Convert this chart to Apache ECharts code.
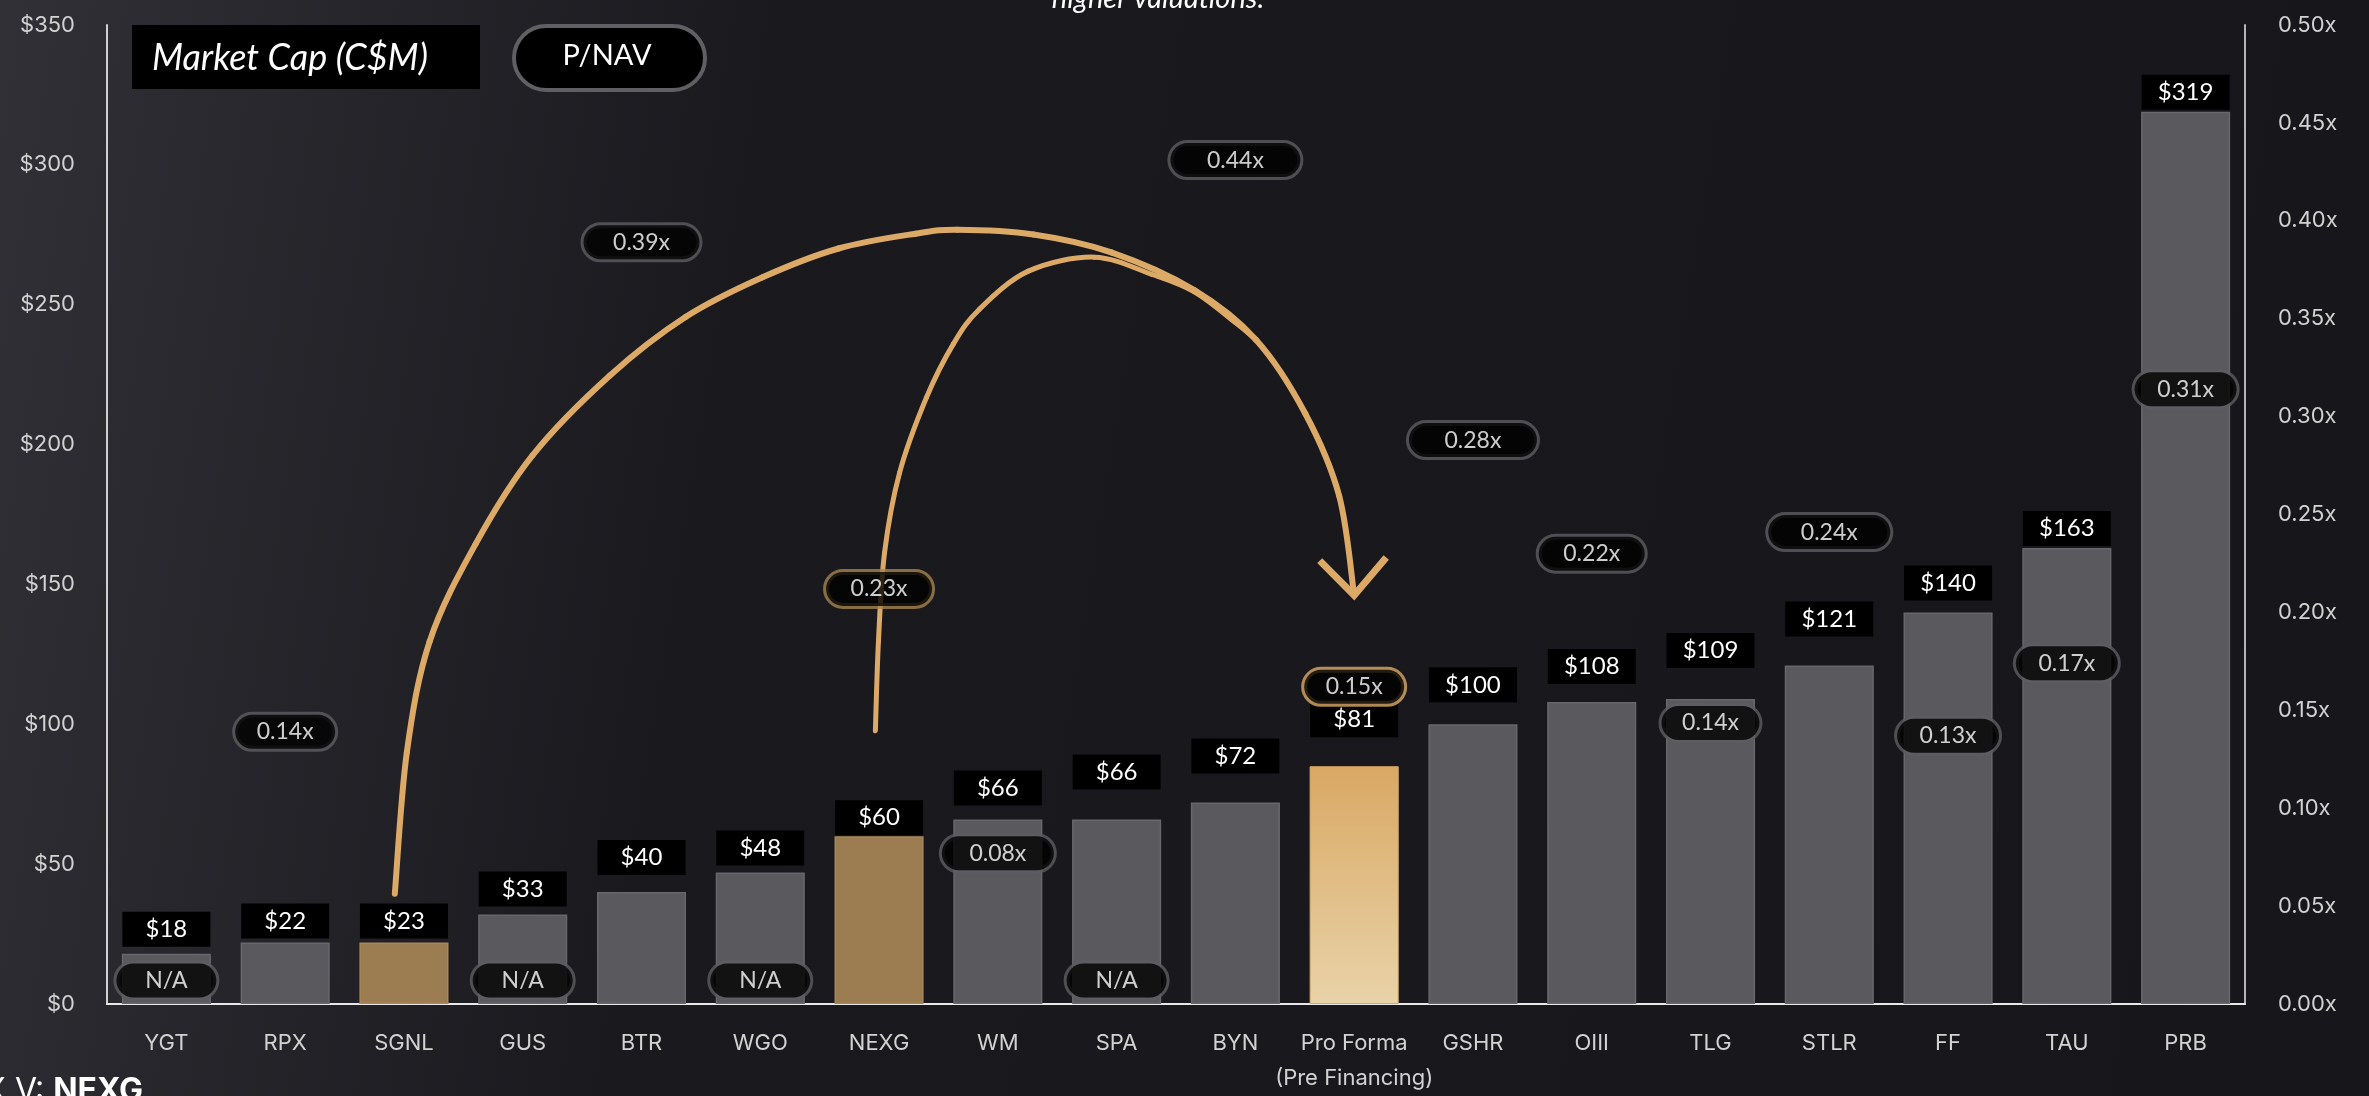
<!DOCTYPE html>
<html>
<head>
<meta charset="utf-8">
<script src="https://cdn.jsdelivr.net/npm/echarts@6/dist/echarts.min.js"></script>
<style>
  html, body { margin: 0; padding: 0; width: 2369px; height: 1096px; overflow: hidden; background: #18171c; }
  #chart { width: 2369px; height: 1096px; }
</style>
</head>
<body>
<div id="chart"></div>
<script>
// ---------------- DATA ----------------
const categories = ['YGT', 'RPX', 'SGNL', 'GUS', 'BTR', 'WGO', 'NEXG', 'WM', 'SPA', 'BYN',
  'Pro Forma\n(Pre Financing)', 'GSHR', 'OIII', 'TLG', 'STLR', 'FF', 'TAU', 'PRB'];
// Market cap (C$M) as drawn by the bars
const marketCap = [18, 22, 22, 32, 40, 47, 60, 66, 66, 72, 85, 100, 108, 109, 121, 140, 163, 319];
// Market cap labels as printed
const marketCapLabels = ['$18', '$22', '$23', '$33', '$40', '$48', '$60', '$66', '$66', '$72',
  '$81', '$100', '$108', '$109', '$121', '$140', '$163', '$319'];
// P/NAV labels as printed and where they sit on the right (P/NAV) axis
const pNavLabels = ['N/A', '0.14x', null, 'N/A', '0.39x', 'N/A', '0.23x', '0.08x', 'N/A', '0.44x',
  '0.15x', '0.28x', '0.22x', '0.14x', '0.24x', '0.13x', '0.17x', '0.31x'];
const pNavPlotted = [0.012, 0.139, null, 0.012, 0.389, 0.012, 0.212, 0.077, 0.012, 0.431,
  0.162, 0.288, 0.230, 0.1435, 0.241, 0.137, 0.174, 0.314];
// Axis ranges
const leftAxis = { min: 0, max: 350, interval: 50 };
const rightAxis = { min: 0, max: 0.5, interval: 0.05 };
// Annotation arrows, in (category index, C$M) space
const arrowFromSGNL = [[1.923, 39.4], [2.024, 89.9], [2.217, 129.7], [2.604, 164.5], [3.084, 196.2],
  [3.732, 224.6], [4.371, 245.6], [5.019, 259.8], [5.659, 270.1], [6.307, 275.4], [6.659, 276.8],
  [7.30, 275.1], [7.955, 268.7], [8.654, 255.2], [9.175, 237.4], [9.588, 211.1], [9.874, 181.6],
  [10.0, 146.1]];
const arrowFromNEXG = [[5.969, 97.7], [5.995, 129.7], [6.046, 161.3], [6.172, 189.8], [6.399, 216.8],
  [6.626, 236.0], [6.845, 248.4], [7.257, 262.0], [7.813, 267.0], [8.3, 260.8], [8.654, 254.6],
  [9.0, 243.6], [9.175, 237.4]];
const arrowHead = [[9.71, 158.5], [10.0, 146.1], [10.27, 159.6]];

// ---------------- STYLE ----------------
const GOLD = '#dcaa66';
const GRAY_BAR = '#5a595e';
const BROWN = '#9c7c51';
const pillWidths = [100, 100, 0, 100, 116, 100, 106, 112, 100, 130, 100, 128, 106, 98, 122, 102, 102, 102];
const labelGaps = [7, 4, 4, 8, 17, 7, 1, 14, 30, 29, 29, 22, 18, 31, 29, 12, 2, 2];
const AXIS_FONT = 'Inter, "Noto Sans", sans-serif';
const LABEL_FONT = 'Lato, "Open Sans", sans-serif';

const chart = echarts.init(document.getElementById('chart'), null, { renderer: 'canvas' });

const barData = marketCap.map((v, i) => {
  const name = categories[i];
  let itemStyle = { color: GRAY_BAR, borderColor: '#68676c', borderWidth: 1.5 };
  if (name === 'SGNL' || name === 'NEXG') {
    itemStyle = { color: BROWN, borderColor: '#a8885a', borderWidth: 1.5 };
  } else if (name.indexOf('Pro Forma') === 0) {
    itemStyle = {
      color: new echarts.graphic.LinearGradient(0, 0, 0, 1, [
        { offset: 0, color: '#d9a864' },
        { offset: 1, color: '#e9d3a9' }
      ]),
      borderColor: '#d9a864', borderWidth: 1
    };
  }
  return { value: v, itemStyle, label: { distance: labelGaps[i] } };
});

const pillData = pNavPlotted.map((v, i) => {
  if (v === null) return { value: [i, null] };
  const name = categories[i];
  const gold = name.indexOf('Pro Forma') === 0;
  const brown = name === 'NEXG';
  return {
    value: [i, v],
    label: {
      width: pillWidths[i],
      borderColor: gold ? GOLD : (brown ? '#a3834f' : '#5c5c61')
    }
  };
});

const option = {
  backgroundColor: new echarts.graphic.LinearGradient(0, 0, 1, 0.35, [
    { offset: 0, color: '#303036' },
    { offset: 0.32, color: '#1a191e' },
    { offset: 1, color: '#17161b' }
  ]),
  animation: false,
  grid: { left: 107, right: 124, top: 25, bottom: 85, containLabel: false },
  xAxis: {
    type: 'category',
    data: categories,
    axisLine: { show: true, lineStyle: { color: '#e8e8e8', width: 2 } },
    axisTick: { show: false },
    axisLabel: {
      color: '#d2d2d2', fontFamily: AXIS_FONT, fontSize: 22, margin: 22,
      lineHeight: 35, interval: 0
    },
    splitLine: { show: false }
  },
  yAxis: [
    {
      type: 'value', position: 'left',
      min: leftAxis.min, max: leftAxis.max, interval: leftAxis.interval,
      axisLine: { show: true, lineStyle: { color: '#d0d0d0', width: 2 } },
      axisTick: { show: false },
      splitLine: { show: false },
      axisLabel: {
        formatter: v => '$' + v,
        color: '#d2d2d2', fontFamily: AXIS_FONT, fontSize: 22, margin: 32
      }
    },
    {
      type: 'value', position: 'right',
      min: rightAxis.min, max: rightAxis.max, interval: rightAxis.interval,
      axisLine: { show: true, lineStyle: { color: '#b4b4b8', width: 2 } },
      axisTick: { show: false },
      splitLine: { show: false },
      axisLabel: {
        formatter: v => v.toFixed(2) + 'x',
        color: '#d2d2d2', fontFamily: AXIS_FONT, fontSize: 22, margin: 33
      }
    }
  ],
  series: [
    {
      name: 'Market Cap (C$M)',
      type: 'bar',
      yAxisIndex: 0,
      data: barData,
      barCategoryGap: '25%',
      z: 2,
      label: {
        show: true,
        position: 'top',
        formatter: p => marketCapLabels[p.dataIndex],
        color: '#ffffff',
        fontFamily: LABEL_FONT,
        fontSize: 24,
        lineHeight: 23,
        width: 88,
        align: 'center',
        padding: [6, 0, 6, 0],
        backgroundColor: '#000000'
      }
    },
    {
      name: 'P/NAV',
      type: 'scatter',
      yAxisIndex: 1,
      data: pillData,
      symbolSize: 1,
      itemStyle: { color: 'rgba(0,0,0,0)' },
      z: 10,
      label: {
        show: true,
        position: 'inside',
        formatter: p => pNavLabels[p.dataIndex] || '',
        color: '#ffffff',
        fontFamily: LABEL_FONT,
        fontSize: 23,
        lineHeight: 24,
        align: 'center',
        padding: [5, 0, 5, 0],
        backgroundColor: '#000000',
        borderWidth: 3,
        borderColor: '#5c5c61',
        borderRadius: 19
      }
    }
  ]
};

chart.setOption(option);

// ---------- annotations (anchored through the chart's own scales) ----------
const xFirst = chart.convertToPixel({ xAxisIndex: 0 }, 0);
const xLast = chart.convertToPixel({ xAxisIndex: 0 }, categories.length - 1);
const toPx = ([idx, v]) => [
  xFirst + idx * (xLast - xFirst) / (categories.length - 1),
  chart.convertToPixel({ yAxisIndex: 0 }, v)
];

// Catmull-Rom spline through the points -> cubic bezier segments
function splineSegments(points, lineWidth) {
  const p = points.map(toPx);
  const out = [];
  for (let i = 0; i < p.length - 1; i++) {
    const p0 = p[i - 1] || p[i], p1 = p[i], p2 = p[i + 1], p3 = p[i + 2] || p[i + 1];
    out.push({
      type: 'bezierCurve', z: 5, silent: true,
      shape: {
        x1: p1[0], y1: p1[1], x2: p2[0], y2: p2[1],
        cpx1: p1[0] + (p2[0] - p0[0]) / 6, cpy1: p1[1] + (p2[1] - p0[1]) / 6,
        cpx2: p2[0] - (p3[0] - p1[0]) / 6, cpy2: p2[1] - (p3[1] - p1[1]) / 6
      },
      style: { stroke: GOLD, lineWidth: lineWidth, fill: null, lineCap: 'round' }
    });
  }
  return out;
}

const graphics = [].concat(
  splineSegments(arrowFromSGNL, 6),
  splineSegments(arrowFromNEXG, 5),
  [
    {
      type: 'polyline', z: 5, silent: true,
      shape: { points: arrowHead.map(toPx) },
      style: { stroke: GOLD, lineWidth: 7, fill: null, lineJoin: 'miter' }
    },
    // Legend-like header boxes
    {
      type: 'rect', z: 20, left: 132, top: 25,
      shape: { width: 348, height: 64 },
      style: { fill: '#000000' }
    },
    {
      type: 'text', z: 21, x: 152, y: 58,
      style: {
        text: 'Market Cap (C$M)', fill: '#ffffff', verticalAlign: 'middle',
        font: 'italic 36px Lato, "Open Sans", sans-serif'
      }
    },
    {
      type: 'rect', z: 20, left: 512, top: 24,
      shape: { width: 191, height: 64, r: 32 },
      style: { fill: '#000000', stroke: '#5f5f64', lineWidth: 4 }
    },
    {
      type: 'text', z: 21, x: 607, y: 56,
      style: {
        text: 'P/NAV', fill: '#ffffff', align: 'center', verticalAlign: 'middle',
        font: '29px Lato, "Open Sans", sans-serif'
      }
    },
    // clipped page texts
    {
      type: 'text', z: 21, x: 1158, y: 13,
      style: {
        text: 'higher valuations.', fill: '#ffffff', align: 'center', verticalAlign: 'bottom',
        font: 'italic 29px Lato, "Open Sans", sans-serif'
      }
    },
    {
      type: 'text', z: 21, x: 143, y: 1075,
      style: {
        text: '{a|TSX V: }{b|NEXG}', align: 'right', verticalAlign: 'top',
        rich: {
          a: { fill: '#ffffff', font: '32px Inter, "Noto Sans", sans-serif' },
          b: { fill: '#ffffff', font: 'bold 32px Inter, "Noto Sans", sans-serif' }
        }
      }
    }
  ]
);

chart.setOption({ graphic: graphics });
</script>
</body>
</html>
